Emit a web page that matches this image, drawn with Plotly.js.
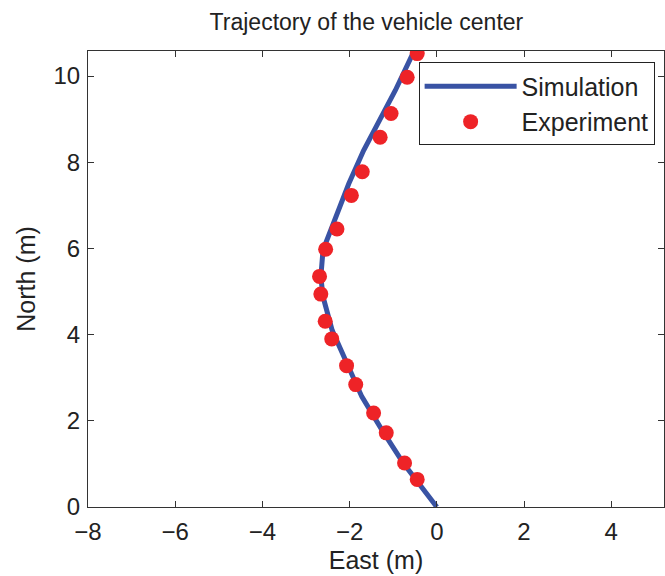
<!DOCTYPE html>
<html>
<head>
<meta charset="utf-8">
<script src="https://cdn.plot.ly/plotly-3.0.1.min.js"></script>
<style>html,body{margin:0;padding:0;background:#fff;}#chart{width:665px;height:576px;}</style>
</head>
<body>
<div id="chart"></div>
<script>
// Simulation trajectory (East, North) in metres
const simEast  = [0.00, -0.77, -1.26, -1.72, -2.06, -2.40, -2.61, -2.66, -2.61, -2.33, -2.02, -1.68, -1.30, -0.95, -0.57, -0.50];
const simNorth = [0.00,  1.02,  1.79,  2.56,  3.33,  4.10,  4.88,  5.34,  5.96,  6.73,  7.50,  8.27,  8.97,  9.67, 10.48, 10.62];
// Experiment points
const expEast  = [-0.45, -0.74, -1.16, -1.45, -1.86, -2.07, -2.41, -2.56, -2.66, -2.69, -2.55, -2.29, -1.96, -1.71, -1.30, -1.05, -0.68, -0.45];
const expNorth = [ 0.64,  1.02,  1.72,  2.18,  2.84,  3.28,  3.90,  4.31,  4.94,  5.35,  5.98,  6.45,  7.23,  7.78,  8.58,  9.13,  9.97, 10.52];

const fam = 'Liberation Sans, Arial, sans-serif';
const tickFont = {family: fam, color: '#222', size: 24};
const labelFont = {family: fam, color: '#222', size: 25};

const traces = [
  {x: simEast, y: simNorth, mode: 'lines', name: 'Simulation',
   line: {color: '#3953a4', width: 5}},
  {x: expEast, y: expNorth, mode: 'markers', name: 'Experiment',
   marker: {color: '#ee2327', size: 15}}
];

const axisCommon = {
  showline: true, linecolor: '#333', linewidth: 1, mirror: 'ticks',
  ticks: 'inside', ticklen: 6, tickcolor: '#333', showgrid: false, zeroline: false,
  tickfont: tickFont
};

const layout = {
  width: 665, height: 576,
  margin: {l: 88, r: 1, t: 51, b: 69},
  paper_bgcolor: '#fff', plot_bgcolor: '#fff',
  font: tickFont,
  title: {text: 'Trajectory of the vehicle center', font: {size: 23, color: '#222', family: fam},
          x: 0.551, xref: 'container', y: 0.962, yref: 'container', xanchor: 'center', yanchor: 'middle'},
  xaxis: Object.assign({}, axisCommon, {range: [-8, 5.21], dtick: 2, tick0: 0,
    ticklabelstandoff: 3,
    title: {text: 'East (m)', font: labelFont, standoff: 7}}),
  yaxis: Object.assign({}, axisCommon, {range: [0, 10.58], dtick: 2, tick0: 0,
    ticklabelstandoff: 2,
    title: {text: 'North (m)', font: labelFont, standoff: 10}}),
  legend: {x: 0.574, xanchor: 'left', y: 0.975, yanchor: 'top',
           bgcolor: '#fff', bordercolor: '#222', borderwidth: 1,
           font: labelFont, itemwidth: 92, tracegroupgap: 0}
};

Plotly.newPlot('chart', traces, layout, {displayModeBar: false, staticPlot: true});
</script>
</body>
</html>
